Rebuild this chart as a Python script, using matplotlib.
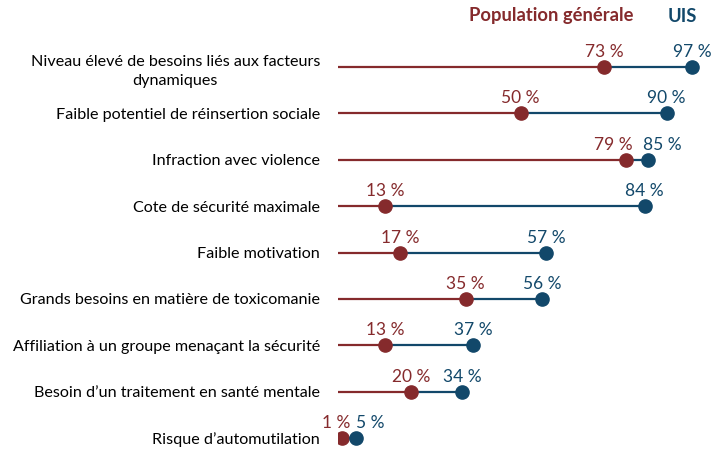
import matplotlib
matplotlib.use("Agg")
import matplotlib.pyplot as plt

plt.rcParams['font.family'] = ['Lato', 'DejaVu Sans']

categories = [
    "Niveau élevé de besoins liés aux facteurs\ndynamiques",
    "Faible potentiel de réinsertion sociale",
    "Infraction avec violence",
    "Cote de sécurité maximale",
    "Faible motivation",
    "Grands besoins en matière de toxicomanie",
    "Affiliation à un groupe menaçant la sécurité",
    "Besoin d’un traitement en santé mentale",
    "Risque d’automutilation",
]
general = [73, 50, 79, 13, 17, 35, 13, 20, 1]
uis = [97, 90, 85, 84, 57, 56, 37, 34, 5]
series_names = ["Population générale", "UIS"]

RED = "#852A2C"
BLUE = "#12486A"

# label horizontal nudges (pixels) for close pairs
red_dx = [0, 0, -13, 0, 0, 0, 0, 0, -5]
blue_dx = [0, 0, 14, 0, 0, 0, 0, 0, 14]

fig = plt.figure(figsize=(7.2, 4.57), dpi=100)
L, R = 338 / 720, 703 / 720
ax = fig.add_axes([L, 0, R - L, 1])
ax.set_xlim(0, 100)
step = 46.375
ax.set_ylim((457 - 67) / step, -67 / step)

n = len(categories)
ys = list(range(n))
for i in range(n):
    ax.plot([0, general[i]], [i, i], color=RED, lw=1.6, solid_capstyle='butt', zorder=2)
    ax.plot([general[i], uis[i]], [i, i], color=BLUE, lw=1.6, solid_capstyle='butt', zorder=2)
    ax.plot(general[i], i, 'o', color=RED, ms=9.5, zorder=3)
    ax.plot(uis[i], i, 'o', color=BLUE, ms=9.5, zorder=4)

for i in range(n):
    ax.annotate(f"{general[i]} %", (general[i], i), xytext=(red_dx[i] * 0.72, 7.2),
                textcoords='offset points', ha='center', va='baseline',
                color=RED, fontsize=12.5, annotation_clip=False)
    ax.annotate(f"{uis[i]} %", (uis[i], i), xytext=(blue_dx[i] * 0.72, 7.2),
                textcoords='offset points', ha='center', va='baseline',
                color=BLUE, fontsize=12.5, annotation_clip=False)

ax.set_yticks(ys)
ax.set_yticklabels(categories, fontsize=11.6, ha='right', multialignment='center',
                   linespacing=1.5)
ax.tick_params(axis='y', length=0, pad=13)
ax.set_xticks([])
for s in ax.spines.values():
    s.set_visible(False)

fig.text(551 / 720, 1 - 16 / 457, series_names[0], color=RED, fontsize=13.2,
         fontweight='bold', ha='center', va='center')
fig.text(682 / 720, 1 - 16 / 457, series_names[1], color=BLUE, fontsize=13.2,
         fontweight='bold', ha='center', va='center')

fig.savefig("out.png", dpi=100)
